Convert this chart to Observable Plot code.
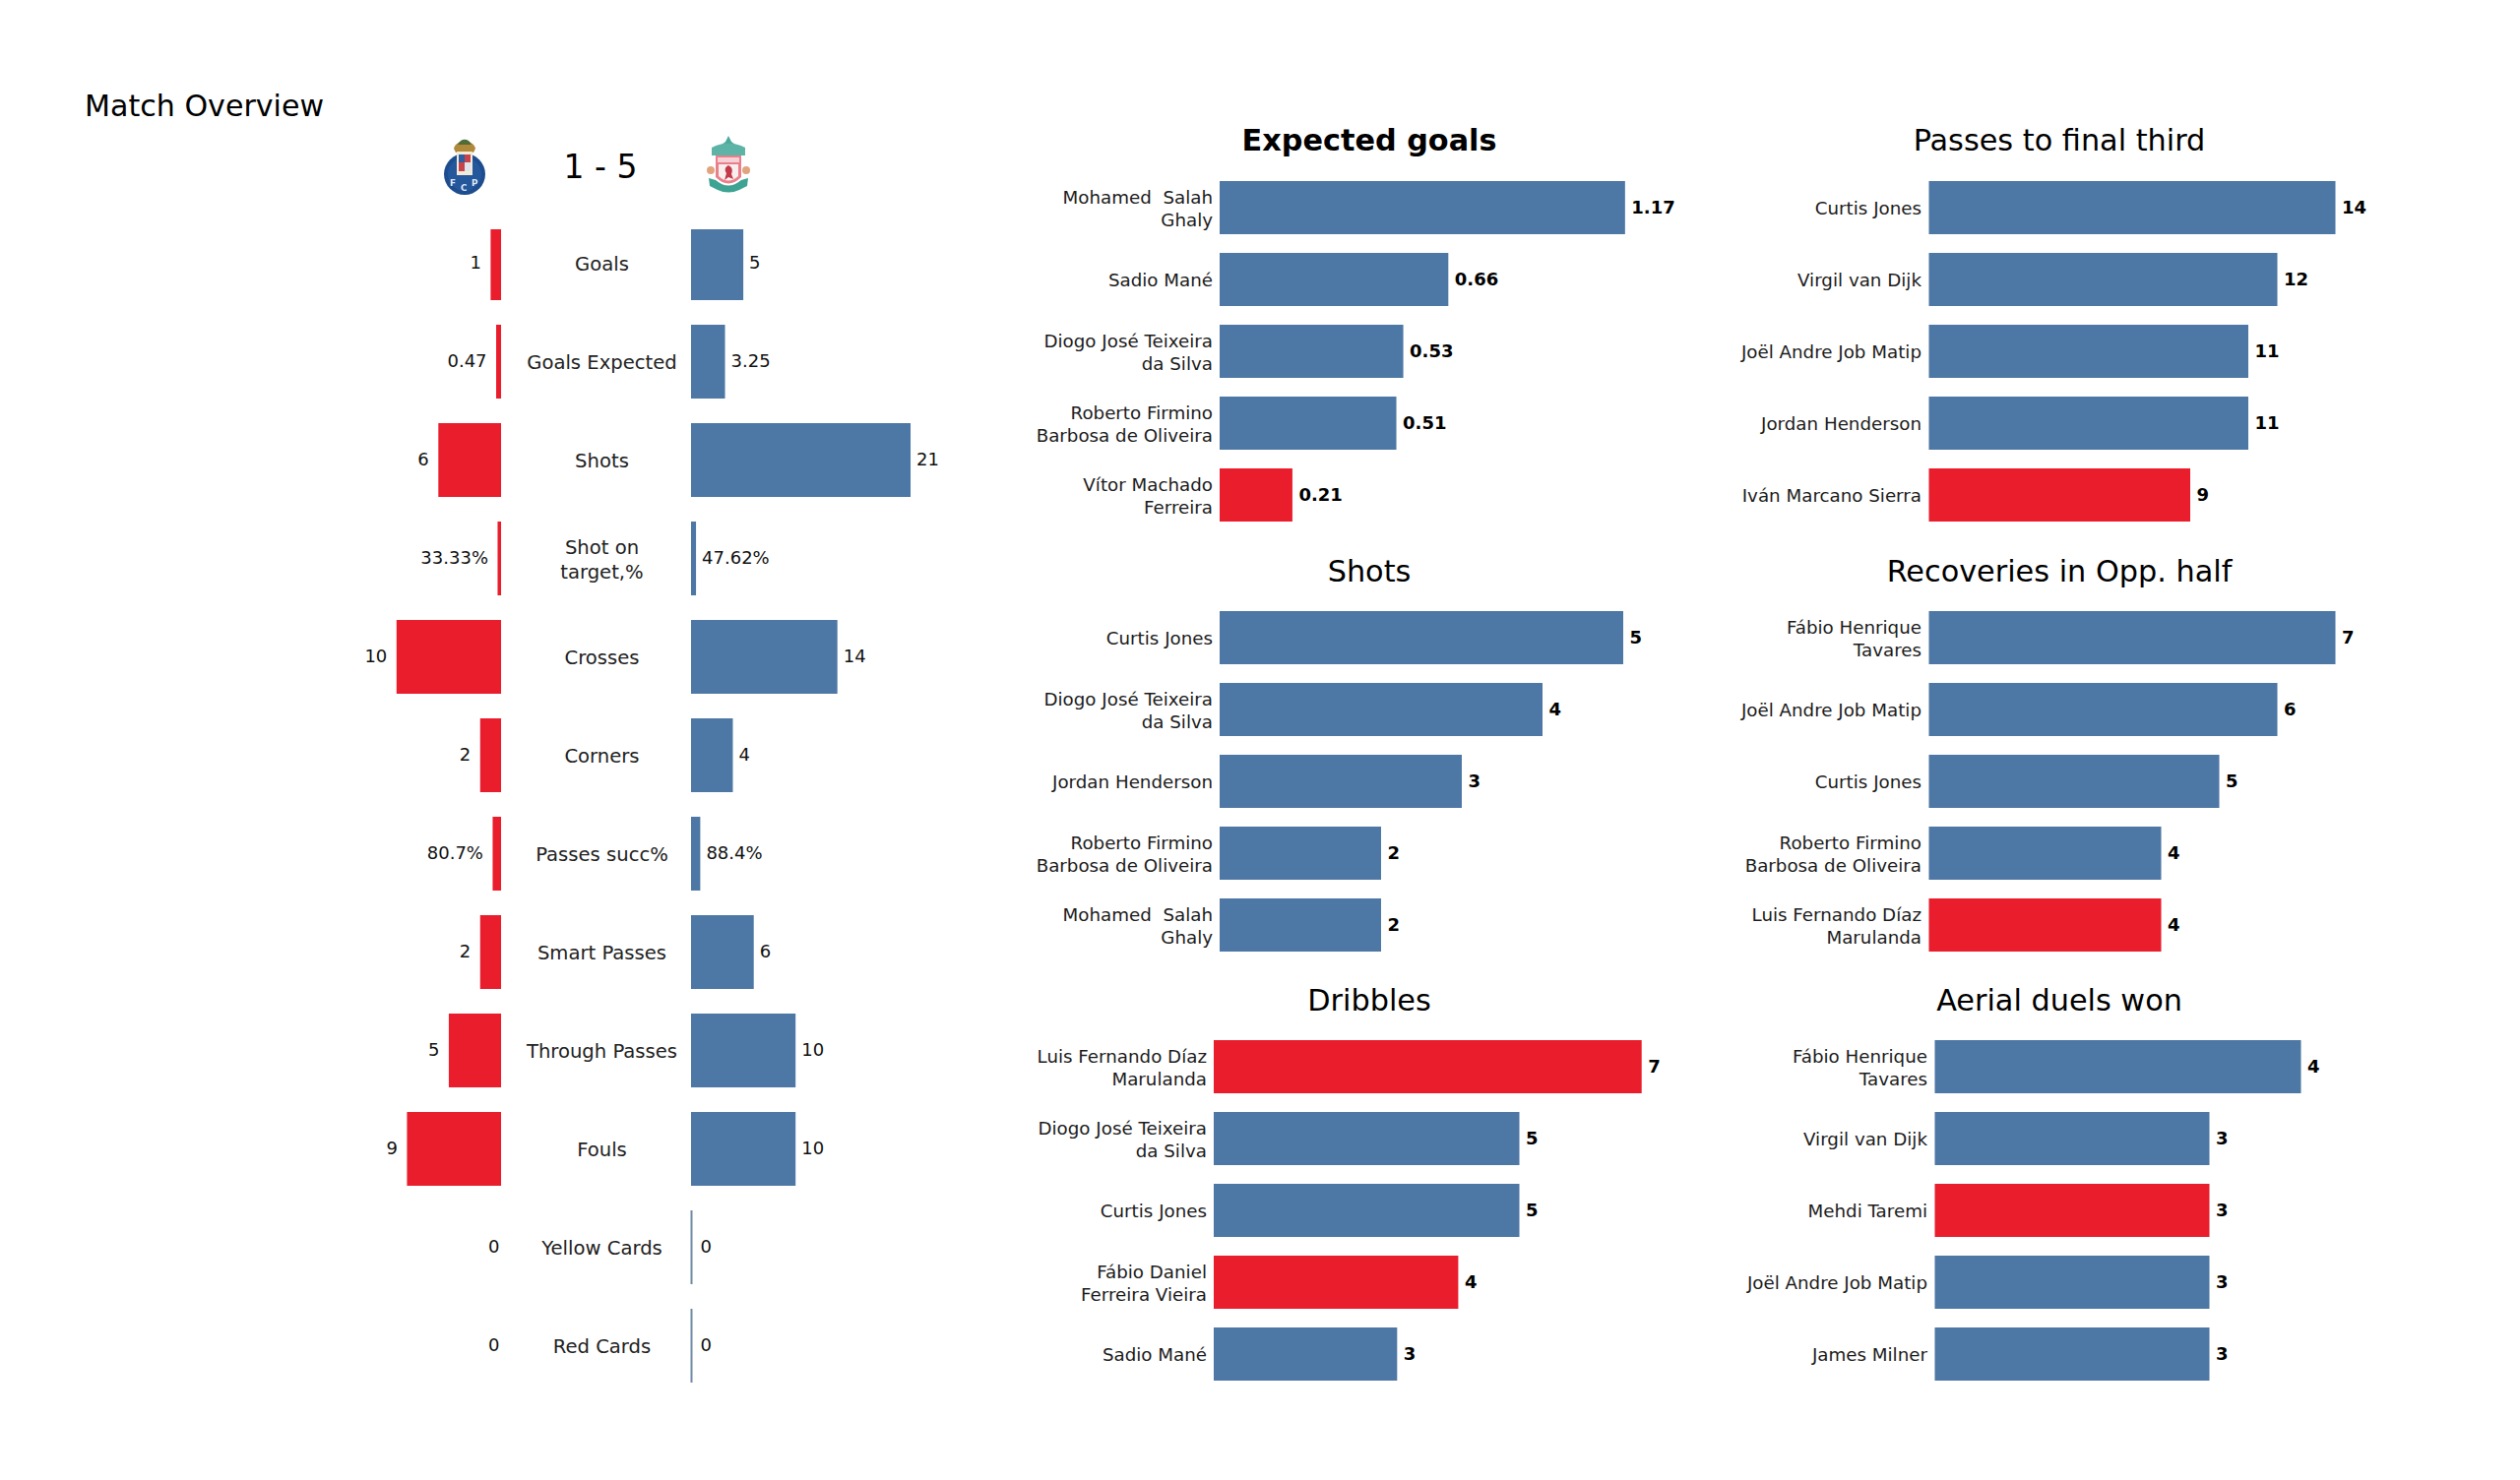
<!DOCTYPE html>
<html>
<head>
<meta charset="utf-8">
<script src="https://cdn.jsdelivr.net/npm/d3@7"></script>
<script src="https://cdn.jsdelivr.net/npm/@observablehq/plot@0.6"></script>
<style>
  html, body { margin: 0; padding: 0; background: #fff; }
  #page { position: relative; width: 2560px; height: 1504px; overflow: hidden; font-family: "DejaVu Sans", sans-serif; color: #000; }
  #page > svg, #page > figure { position: absolute; margin: 0; background: transparent; overflow: visible; }
  .head { position: absolute; white-space: pre; line-height: 1; transform: translate(-50%, -50%); font-size: 30.3px; }
</style>
</head>
<body>
<div id="page"></div>
<script>
// ---------- Match overview data ----------
const statLabels = ["Goals", "Goals Expected", "Shots", "Shot on\ntarget,%", "Crosses", "Corners", "Passes succ%", "Smart Passes", "Through Passes", "Fouls", "Yellow Cards", "Red Cards"];
const homeValues = [1, 0.47, 6, 0.3333, 10, 2, 0.807, 2, 5, 9, 0, 0];
const awayValues = [5, 3.25, 21, 0.4762, 14, 4, 0.884, 6, 10, 10, 0, 0];
const homeLabels = ["1", "0.47", "6", "33.33%", "10", "2", "80.7%", "2", "5", "9", "0", "0"];
const awayLabels = ["5", "3.25", "21", "47.62%", "14", "4", "88.4%", "6", "10", "10", "0", "0"];

// ---------- Player panels ----------
const xgNames = ["Mohamed  Salah\nGhaly", "Sadio Mané", "Diogo José Teixeira\nda Silva", "Roberto Firmino\nBarbosa de Oliveira", "Vítor Machado\nFerreira"];
const xgValues = [1.17, 0.66, 0.53, 0.51, 0.21];
const xgTeams = ["L", "L", "L", "L", "P"];

const shotNames = ["Curtis Jones", "Diogo José Teixeira\nda Silva", "Jordan Henderson", "Roberto Firmino\nBarbosa de Oliveira", "Mohamed  Salah\nGhaly"];
const shotValues = [5, 4, 3, 2, 2];
const shotTeams = ["L", "L", "L", "L", "L"];

const dribbleNames = ["Luis Fernando Díaz\nMarulanda", "Diogo José Teixeira\nda Silva", "Curtis Jones", "Fábio Daniel\nFerreira Vieira", "Sadio Mané"];
const dribbleValues = [7, 5, 5, 4, 3];
const dribbleTeams = ["P", "L", "L", "P", "L"];

const passNames = ["Curtis Jones", "Virgil van Dijk", "Joël Andre Job Matip", "Jordan Henderson", "Iván Marcano Sierra"];
const passValues = [14, 12, 11, 11, 9];
const passTeams = ["L", "L", "L", "L", "P"];

const recoveryNames = ["Fábio Henrique\nTavares", "Joël Andre Job Matip", "Curtis Jones", "Roberto Firmino\nBarbosa de Oliveira", "Luis Fernando Díaz\nMarulanda"];
const recoveryValues = [7, 6, 5, 4, 4];
const recoveryTeams = ["L", "L", "L", "L", "P"];

const aerialNames = ["Fábio Henrique\nTavares", "Virgil van Dijk", "Mehdi Taremi", "Joël Andre Job Matip", "James Milner"];
const aerialValues = [4, 3, 3, 3, 3];
const aerialTeams = ["L", "L", "P", "L", "L"];

const RED = "#e91d2c", BLUE = "#4d77a5", FONT = "DejaVu Sans";
const teamColor = {L: BLUE, P: RED};
const page = document.getElementById("page");

function place(el, left, top) {
  el.style.left = left + "px";
  el.style.top = top + "px";
  page.appendChild(el);
}
function head(text, cx, cy, opts = {}) {
  const d = document.createElement("div");
  d.className = "head";
  d.textContent = text;
  if (opts.size) d.style.fontSize = opts.size + "px";
  if (opts.bold) d.style.fontWeight = "bold";
  place(d, cx, cy);
  return d;
}

// ---------- Left overview panel ----------
const rows = statLabels.map((label, i) => ({
  label, home: homeValues[i], away: awayValues[i], homeLabel: homeLabels[i], awayLabel: awayLabels[i]
}));
const GAP = 18.17; // gap between the two baselines, in value units
const MID = 9.6;   // where the category labels sit
const nonZeroHome = rows.filter(d => d.home > 0), nonZeroAway = rows.filter(d => d.away > 0);
const zeroHome = rows.filter(d => d.home === 0), zeroAway = rows.filter(d => d.away === 0);
place(Plot.plot({
  width: 1000, height: 1504,
  marginLeft: 0, marginRight: 0, marginTop: 233, marginBottom: 99,
  style: {background: "transparent", fontFamily: FONT},
  x: {domain: [-47.93, 46.23], range: [0, 1000], axis: null},
  y: {domain: statLabels, range: [230, 1405], paddingInner: 0.25, paddingOuter: 0, axis: null},
  marks: [
    Plot.barX(nonZeroHome, {x1: 0, x2: d => -d.home, y: "label", fill: RED, clip: true}),
    Plot.barX(nonZeroAway, {x1: GAP, x2: d => GAP + d.away, y: "label", fill: BLUE, clip: true}),
    Plot.ruleX(zeroAway, {x: GAP, y1: "label", y2: "label", stroke: "#6f8ba6", strokeWidth: 2}),
    Plot.text(nonZeroHome, {x: d => -d.home, y: "label", text: "homeLabel", textAnchor: "end", dx: -10, dy: -1, fontSize: 18, fill: "#111"}),
    Plot.text(zeroHome, {x: 0, y: "label", text: "homeLabel", textAnchor: "end", dx: -2, dy: -1, fontSize: 18, fill: "#111"}),
    Plot.text(nonZeroAway, {x: d => GAP + d.away, y: "label", text: "awayLabel", textAnchor: "start", dx: 5.5, dy: -1, fontSize: 18, fill: "#111"}),
    Plot.text(zeroAway, {x: GAP, y: "label", text: "awayLabel", textAnchor: "start", dx: 9, dy: -1, fontSize: 18, fill: "#111"}),
    Plot.text(rows, {x: MID, y: "label", text: "label", fontSize: 19.6, lineHeight: 1.27, dy: -0.5, fill: "#222"})
  ]
}), 0, 0);

// ---------- Player panels ----------
function playerPanel({names, values, teams, x0, unit, r0, r1, left, width, pad = 7.5}) {
  const data = names.map((name, i) => ({name, value: values[i], team: teams[i]}));
  const maxV = d3.max(values);
  return place(Plot.plot({
    width, height: 1504,
    marginLeft: x0 - left, marginRight: 0, marginTop: 0, marginBottom: 0,
    style: {background: "transparent", fontFamily: FONT},
    x: {domain: [0, maxV], range: [x0 - left, x0 - left + maxV * unit], axis: null},
    y: {domain: names, range: [r0, r1], paddingInner: 0.26, paddingOuter: 0, label: null},
    marks: [
      Plot.barX(data, {x: "value", y: "name", fill: d => teamColor[d.team]}),
      Plot.axisY({anchor: "left", tickSize: 0, tickPadding: pad, fontSize: 18.25, lineHeight: 1.27, label: null, dy: -0.5, fill: "#1c1c1c", marginLeft: x0 - left}),
      Plot.text(data, {x: "value", y: "name", text: d => String(d.value), textAnchor: "start", dx: 6, dy: -0.5, fontSize: 18, fontWeight: "bold", fill: "#000"})
    ]
  }), left, 0);
}

const COL2 = {left: 1010, width: 820};
const COL3 = {left: 1730, width: 800};
const ROW1 = {r0: 182.5, r1: 531};
const ROW2 = {r0: 621, r1: 968};
const ROW3 = {r0: 1057, r1: 1404};

playerPanel({names: xgNames, values: xgValues, teams: xgTeams, x0: 1239, unit: 352, ...ROW1, ...COL2});
playerPanel({names: shotNames, values: shotValues, teams: shotTeams, x0: 1239, unit: 82, ...ROW2, ...COL2});
playerPanel({names: dribbleNames, values: dribbleValues, teams: dribbleTeams, x0: 1233, unit: 62.1, ...ROW3, ...COL2});
playerPanel({names: passNames, values: passValues, teams: passTeams, x0: 1959.5, unit: 29.5, pad: 8, ...ROW1, ...COL3});
playerPanel({names: recoveryNames, values: recoveryValues, teams: recoveryTeams, x0: 1959.5, unit: 59, pad: 8, ...ROW2, ...COL3});
playerPanel({names: aerialNames, values: aerialValues, teams: aerialTeams, x0: 1965.5, unit: 93, pad: 8, ...ROW3, ...COL3});

// ---------- Titles ----------
const t = head("Match Overview", 0, 108, {size: 30.1});
t.style.transform = "translate(0, -50%)";
t.style.left = "86px";
head("1 - 5", 610, 169, {size: 33});
head("Expected goals", 1391, 143, {bold: true});
head("Shots", 1391, 581);
head("Dribbles", 1391, 1017);
head("Passes to final third", 2092, 143);
head("Recoveries in Opp. half", 2092, 581);
head("Aerial duels won", 2092, 1017);

// ---------- Club crests (decorative) ----------
const NS = "http://www.w3.org/2000/svg";
function crest(markup, left, top, w, h) {
  const s = document.createElementNS(NS, "svg");
  s.setAttribute("width", w); s.setAttribute("height", h);
  s.setAttribute("viewBox", `0 0 ${w} ${h}`);
  s.style.filter = "blur(0.5px)";
  s.innerHTML = markup;
  place(s, left, top);
}
crest(`
  <circle cx="21" cy="38" r="21" fill="#1d4d8f"/>
  <circle cx="21" cy="38" r="17" fill="#24579c"/>
  <path d="M10 12 C12 2 30 2 32 12 L30 16 L12 16 Z" fill="#b08a3a"/>
  <path d="M14 8 C17 1 25 1 28 8 Z" fill="#4f6b38"/>
  <rect x="13" y="15" width="16" height="24" fill="#f2ead8"/>
  <rect x="15" y="18" width="6" height="8" fill="#2f5da0"/>
  <rect x="21" y="18" width="6" height="8" fill="#c7424a"/>
  <rect x="15" y="26" width="6" height="9" fill="#c7424a"/>
  <rect x="21" y="26" width="6" height="9" fill="#dfe3ee"/>
  <text x="6" y="50" font-size="9" font-weight="bold" fill="#dfe8f5" font-family="DejaVu Sans">F</text>
  <text x="17" y="55" font-size="9" font-weight="bold" fill="#dfe8f5" font-family="DejaVu Sans">C</text>
  <text x="28" y="50" font-size="9" font-weight="bold" fill="#dfe8f5" font-family="DejaVu Sans">P</text>
`, 451, 139, 42, 59);
crest(`
  <path d="M22 0 L25 6 L29 9 L25 12 L19 12 L15 9 L19 6 Z" fill="#4aa99b"/>
  <path d="M5 12 Q22 3 39 12 L39 20 L5 20 Z" fill="#5cb3a6"/>
  <path d="M9 20 L35 20 L35 42 Q22 55 9 42 Z" fill="#ea7f8c"/>
  <path d="M12 29 L32 29 L32 41 Q22 50 12 41 Z" fill="#f8eeee"/>
  <path d="M22 30 C27 32 26 37 25 39 L27 44 L22 42 L18 45 L20 38 C18 35 18 32 22 30 Z" fill="#c23a4a"/>
  <rect x="11" y="22" width="22" height="5" fill="#f5d0d5"/>
  <circle cx="4" cy="35" r="4" fill="#e0a57f"/>
  <circle cx="40" cy="35" r="4" fill="#e0a57f"/>
  <path d="M2 43 L9 45 Q22 56 35 45 L42 43 L41 51 L33 55 Q22 60 11 55 L3 51 Z" fill="#3fa394"/>
`, 718, 138, 44, 60);
</script>
</body>
</html>
